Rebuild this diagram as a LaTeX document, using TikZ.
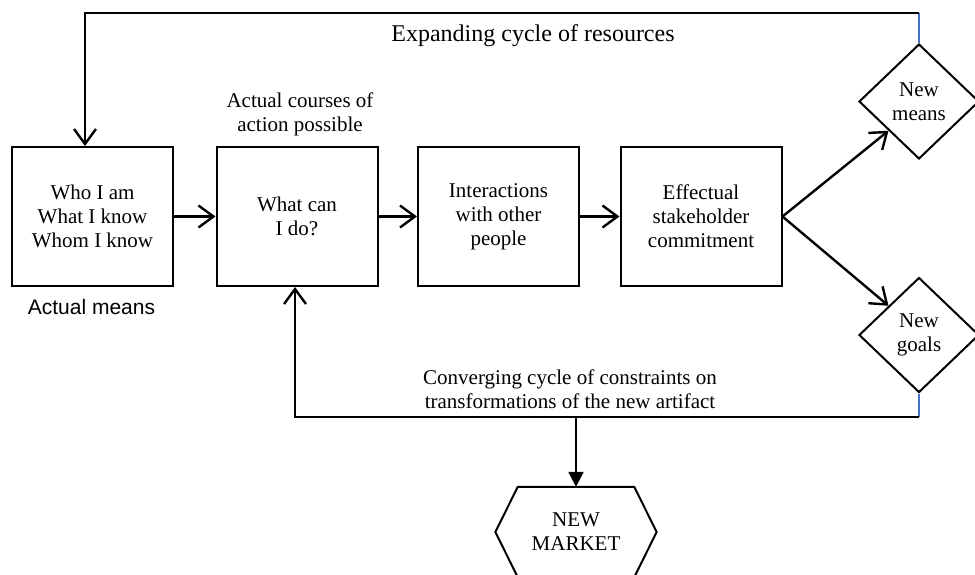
\documentclass[tikz,border=0pt]{standalone}
\usepackage{fontspec}
\setmainfont{Liberation Serif}
\setsansfont{Liberation Sans}
\usetikzlibrary{shapes.geometric,arrows.meta,calc}
\definecolor{stubblue}{RGB}{68,114,196}

\begin{document}
\begin{tikzpicture}[
    x=1pt, y=-1pt,
    every node/.style={font=\fontsize{21}{24}\selectfont},
    stage/.style={rectangle, draw, line width=2pt, minimum width=161pt, minimum height=139pt, align=center, inner sep=0pt},
    outcome/.style={diamond, draw, line width=2pt, minimum width=120pt, minimum height=115pt, align=center, inner sep=0pt},
    flow/.style={line width=2.4pt, -{Straight Barb[length=15pt, width=22pt, line width=2.4pt]}},
    stub/.style={line width=2.4pt, draw=stubblue},
    lbl/.style={align=center}
]
    \useasboundingbox (0,0) rectangle (975,574);

    % Stages
    \node[stage] (means) at (92.5,216.5) {Who I am\\What I know\\Whom I know};
    \node[stage] (cando) at (297,216.5) {What can\\I do?};
    \node[stage] (interact) at (498.5,216.5) {Interactions\\with other\\people};
    \node[stage] (commit) at (701,216.5) {Effectual\\stakeholder\\commitment};

    % Outcomes
    \node[outcome] (newmeans) at (919,101.5) {New\\means};
    \node[outcome] (newgoals) at (919,335) {New\\goals};
    \node[minimum width=116pt, minimum height=90pt, inner sep=0pt, align=center] (market) at (576,532) {NEW\\MARKET};
    \draw[line width=2pt] (market.north west) -- (market.north east) -- ($(market.east)+(22.5,0)$)
        -- (market.south east) -- (market.south west) -- ($(market.west)+(-22.5,0)$) -- cycle;

    % Labels
    \node[font=\sffamily\fontsize{21}{24}\selectfont, anchor=base] (meanslbl) at (91.5,314) {Actual means};
    \node[lbl] (courses) at (300,114) {Actual courses of\\action possible};
    \node[font=\fontsize{24}{28}\selectfont, anchor=base] (expand) at (533,41) {Expanding cycle of resources};
    \node[lbl] (converge) at (570,389) {Converging cycle of constraints on\\transformations of the new artifact};

    % Corners of the cycles
    \coordinate (topright) at (919,13);
    \coordinate (topleft) at (85,13);
    \coordinate (botright) at (919,417);
    \coordinate (botleft) at (295,417);
    \coordinate (split) at (576,417);

    % Main flow
    \draw[flow] (means) -- (cando);
    \draw[flow] (cando) -- (interact);
    \draw[flow] (interact) -- (commit);
    \draw[flow] (commit.east) -- (newmeans.south west);
    \draw[flow] (commit.east) -- (newgoals.north west);

    % Expanding cycle
    \draw[stub] (newmeans.north) -- (topright);
    \draw[flow] (topright) -- (topleft) -- (topleft |- means.north);

    % Converging cycle
    \draw[stub] (newgoals.south) -- (botright);
    \draw[flow] (botright) -- (botleft) -- (botleft |- cando.south);
    \draw[line width=2.4pt, -{Triangle[length=15pt, width=15pt]}] (split) -- (market.north);

\end{tikzpicture}
\end{document}
